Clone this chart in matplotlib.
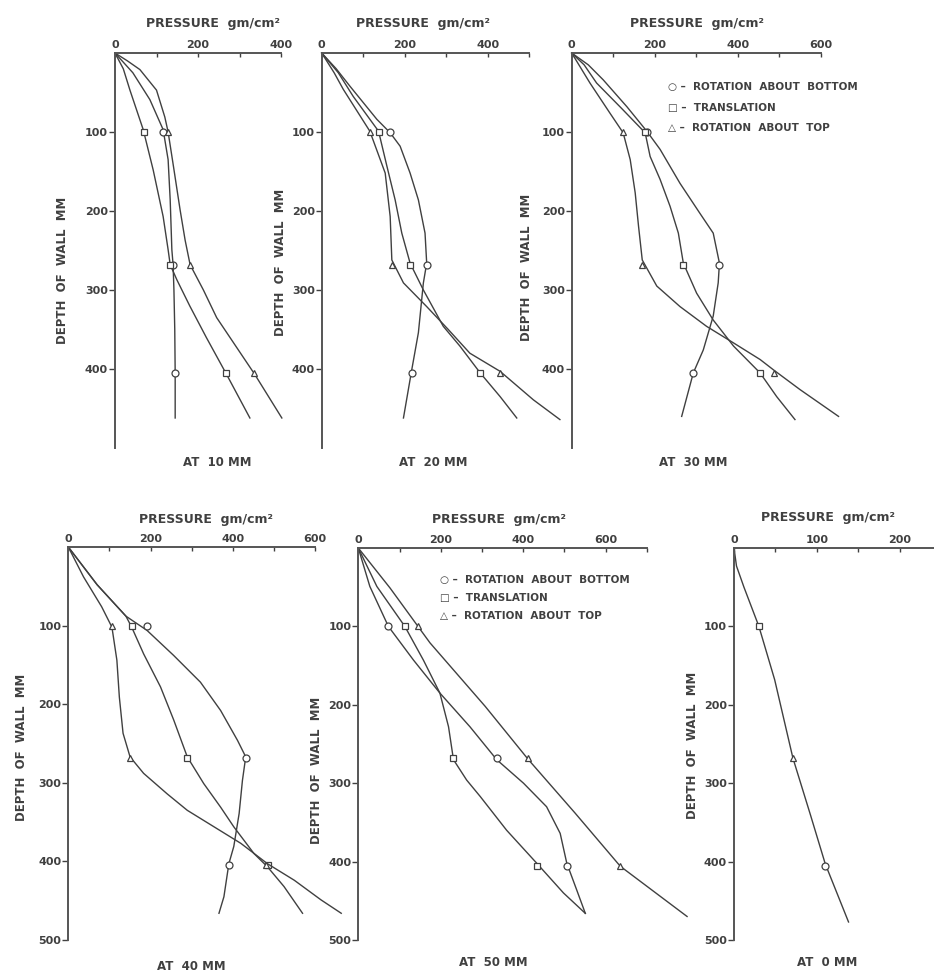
import numpy as np
import matplotlib
matplotlib.use('Agg')
import matplotlib.pyplot as plt

# ----------------------------------------------------------------------------
# Earth pressure on a model wall
# every curve is a list of (pressure gm/cm2, depth mm)
# rb = rotation about bottom, tr = translation, rt = rotation about top
# ----------------------------------------------------------------------------
mark_depth = [100, 268, 405]      # depths of the measuring cells (mm)

# at 10 mm
rb_10 = [(0, 0), (43, 25), (84, 59), (116, 97), (128, 135), (133, 186), (137, 249),
         (140, 268), (142, 300), (144, 350), (145, 405), (145, 462)]
tr_10 = [(0, 0), (20, 20), (36, 47), (68, 97), (92, 148), (116, 207), (128, 249),
         (133, 268), (149, 287), (180, 320), (220, 360), (269, 407), (325, 462)]
rt_10 = [(0, 0), (30, 10), (60, 21), (100, 47), (120, 81), (128, 100), (141, 144),
         (157, 199), (169, 237), (181, 268), (213, 300), (245, 335), (337, 407), (402, 462)]
rb_10_mk = [116, 140, 145]
tr_10_mk = [69, 133, 268]
rt_10_mk = [128, 181, 336]

# at 20 mm
rb_20 = [(0, 0), (35, 20), (68, 42), (133, 84), (165, 101), (189, 118), (213, 152),
         (233, 186), (249, 228), (253, 266), (245, 291), (233, 354), (217, 401), (197, 462)]
tr_20 = [(0, 0), (40, 25), (76, 55), (137, 99), (157, 143), (177, 186), (193, 228),
         (213, 266), (245, 300), (293, 346), (333, 371), (382, 405), (430, 435), (470, 462)]
rt_20 = [(0, 0), (30, 25), (52, 46), (116, 99), (153, 152), (165, 207), (169, 262),
         (197, 291), (253, 321), (305, 350), (357, 380), (430, 403), (510, 439), (574, 464)]
rb_20_mk = [165, 253, 217]
tr_20_mk = [137, 213, 382]
rt_20_mk = [116, 169, 430]

# at 30 mm
rb_30 = [(0, 0), (40, 15), (76, 34), (133, 68), (181, 99), (213, 122), (261, 165),
         (309, 203), (341, 228), (356, 266), (353, 291), (341, 333), (317, 376),
         (293, 405), (265, 460)]
tr_30 = [(0, 0), (30, 15), (60, 38), (120, 70), (177, 101), (189, 131), (213, 160),
         (237, 194), (257, 228), (269, 266), (301, 304), (341, 338), (390, 371),
         (454, 405), (494, 435), (538, 464)]
rt_30 = [(0, 0), (44, 38), (92, 76), (124, 101), (141, 135), (153, 177), (161, 219),
         (170, 262), (205, 295), (261, 321), (325, 346), (390, 367), (454, 388),
         (486, 401), (550, 426), (643, 460)]
rb_30_mk = [181, 356, 293]
tr_30_mk = [177, 269, 454]
rt_30_mk = [124, 170, 488]

# at 40 mm
rb_40 = [(0, 0), (70, 48), (140, 88), (191, 106), (256, 138), (321, 172), (370, 208),
         (411, 246), (431, 267), (423, 297), (415, 339), (402, 381), (390, 403),
         (378, 445), (366, 466)]
tr_40 = [(0, 0), (70, 48), (140, 88), (154, 102), (183, 136), (224, 178), (256, 220),
         (289, 267), (329, 301), (370, 331), (402, 356), (451, 390), (484, 407),
         (524, 432), (569, 466)]
rt_40 = [(0, 0), (37, 38), (81, 76), (106, 102), (118, 144), (124, 191), (133, 237),
         (150, 267), (183, 288), (240, 314), (289, 335), (354, 356), (419, 377),
         (484, 403), (549, 424), (614, 449), (663, 466)]
rb_40_mk = [191, 431, 390]
tr_40_mk = [154, 289, 484]
rt_40_mk = [106, 150, 480]

# at 50 mm
rb_50 = [(0, 0), (28, 49), (73, 100), (134, 143), (198, 185), (271, 228), (336, 270),
         (401, 300), (457, 330), (490, 364), (506, 402), (530, 436), (551, 466)]
tr_50 = [(0, 0), (45, 49), (113, 100), (158, 143), (198, 185), (219, 228), (231, 270),
         (263, 296), (296, 317), (360, 360), (433, 402), (498, 440), (551, 466)]
rt_50 = [(0, 0), (77, 51), (174, 121), (308, 202), (413, 270), (526, 338), (636, 406),
         (798, 470)]
rb_50_mk = [73, 336, 506]
tr_50_mk = [113, 231, 433]
rt_50_mk = [145, 413, 635]

# at 0 mm (at rest)
rest_0 = [(0, 0), (3, 23), (12, 50), (30, 100), (49, 168), (71, 268), (92, 340),
          (110, 403), (138, 477)]
rest_0_mk = [30, 71, 110]

legend_txt = ['ROTATION  ABOUT  BOTTOM', 'TRANSLATION', 'ROTATION  ABOUT  TOP']
legend_sym = ['\u25cb', '\u25a1', '\u25b3']


# ----------------------------------------------------------------------------
# figure helpers (positions in pixels of the 934 x 976 page)
# ----------------------------------------------------------------------------
W, H = 934, 976
ink = '#404040'
fw = 'bold'

fig = plt.figure(figsize=(W/100, H/100), dpi=100)
fig.patch.set_facecolor('white')


def ftext(x, y, s, **kw):
    fig.text(x/W, 1 - y/H, s, color=ink, fontweight=fw, ha='center', va='center', **kw)


def panel(bx, xmax, xticks, xlabs, yticks, curves):
    l, t, r, b = bx
    ax = fig.add_axes([l/W, 1 - b/H, (r - l)/W, (b - t)/H])
    ax.set_xlim(0, xmax)
    ax.set_ylim(500, 0)
    ax.patch.set_visible(False)
    for sp in ['right', 'bottom']:
        ax.spines[sp].set_visible(False)
    for sp in ['left', 'top']:
        ax.spines[sp].set_color('#555555')
        ax.spines[sp].set_linewidth(1.4)
    ax.xaxis.tick_top()
    ax.set_xticks(xticks)
    ax.set_xticklabels([str(v) if v in xlabs else '' for v in xticks])
    ax.set_yticks(yticks)
    ax.set_yticklabels([str(v) for v in yticks])
    ax.tick_params(axis='x', direction='in', length=3, width=1, pad=2, labelsize=8,
                   colors=ink)
    ax.tick_params(axis='y', direction='out', length=4, width=1, pad=1, labelsize=8,
                   colors=ink)
    for lab in ax.get_xticklabels() + ax.get_yticklabels():
        lab.set_fontweight(fw)
    for pts, mk, mp in curves:
        p, d = zip(*pts)
        ax.plot(p, d, color=ink, lw=1.0, clip_on=False)
        ax.plot(mp, mark_depth, ls='none', marker=mk, ms=5, mfc='white', mec=ink,
                mew=0.9, clip_on=False)
    return ax


def legend(x, ys):
    for y, sym, txt in zip(ys, legend_sym, legend_txt):
        fig.text(x/W, 1 - y/H, sym + ' \u2013  ' + txt, color=ink, fontweight=fw,
                 fontsize=7.5, ha='left', va='center')


# ----------------------------------------------------------------------------
# top row
# ----------------------------------------------------------------------------
ytop = [100, 200, 300, 400]
ybot = [100, 200, 300, 400, 500]

panel((115, 53, 281, 448), 400, [0, 100, 200, 300, 400], [0, 200, 400], ytop,
      [(rb_10, 'o', rb_10_mk), (tr_10, 's', tr_10_mk), (rt_10, '^', rt_10_mk)])
panel((321.7, 53, 529.2, 448), 500, [0, 100, 200, 300, 400, 500], [0, 200, 400], ytop,
      [(rb_20, 'o', rb_20_mk), (tr_20, 's', tr_20_mk), (rt_20, '^', rt_20_mk)])
panel((571.7, 53, 820.7, 448), 600, [0, 100, 200, 300, 400, 500, 600], [0, 200, 400, 600],
      ytop,
      [(rb_30, 'o', rb_30_mk), (tr_30, 's', tr_30_mk), (rt_30, '^', rt_30_mk)])

# ----------------------------------------------------------------------------
# bottom row
# ----------------------------------------------------------------------------
panel((68.3, 547, 315.3, 940), 600, [0, 100, 200, 300, 400, 500, 600], [0, 200, 400, 600],
      ybot,
      [(rb_40, 'o', rb_40_mk), (tr_40, 's', tr_40_mk), (rt_40, '^', rt_40_mk)])
panel((358.3, 548, 646.7, 940), 700, [0, 100, 200, 300, 400, 500, 600, 700],
      [0, 200, 400, 600], ybot,
      [(rb_50, 'o', rb_50_mk), (tr_50, 's', tr_50_mk), (rt_50, '^', rt_50_mk)])
ax6 = panel((734, 548, 934, 940), 241, [0, 50, 100, 150, 200], [0, 100, 200], ybot, [])
p, d = zip(*rest_0)
ax6.plot(p, d, color=ink, lw=1.0, clip_on=False)
for mk, mp, md in zip(['s', '^', 'o'], rest_0_mk, mark_depth):
    ax6.plot(mp, md, ls='none', marker=mk, ms=5, mfc='white', mec=ink, mew=0.9)

# ----------------------------------------------------------------------------
# labels
# ----------------------------------------------------------------------------
for x, y in [(213, 23), (423, 23), (697, 23), (206, 520), (499, 520), (828, 518)]:
    ftext(x, y, 'PRESSURE  gm/cm\u00b2', fontsize=9)

for x, y in [(62, 270), (280, 262), (527, 267), (22, 747), (317, 770), (692, 745)]:
    ftext(x, y, 'DEPTH  OF  WALL  MM', fontsize=8.5, rotation=90)

for x, y, s in [(217, 463, 'AT  10 MM'), (433, 463, 'AT  20 MM'), (693, 463, 'AT  30 MM'),
                (191, 967, 'AT  40 MM'), (493, 962, 'AT  50 MM'), (827, 962, 'AT  0 MM')]:
    ftext(x, y, s, fontsize=8.5)

legend(668, [87, 108, 128])
legend(440, [580, 598, 616])

fig.savefig('out.png', dpi=100, facecolor='white')
